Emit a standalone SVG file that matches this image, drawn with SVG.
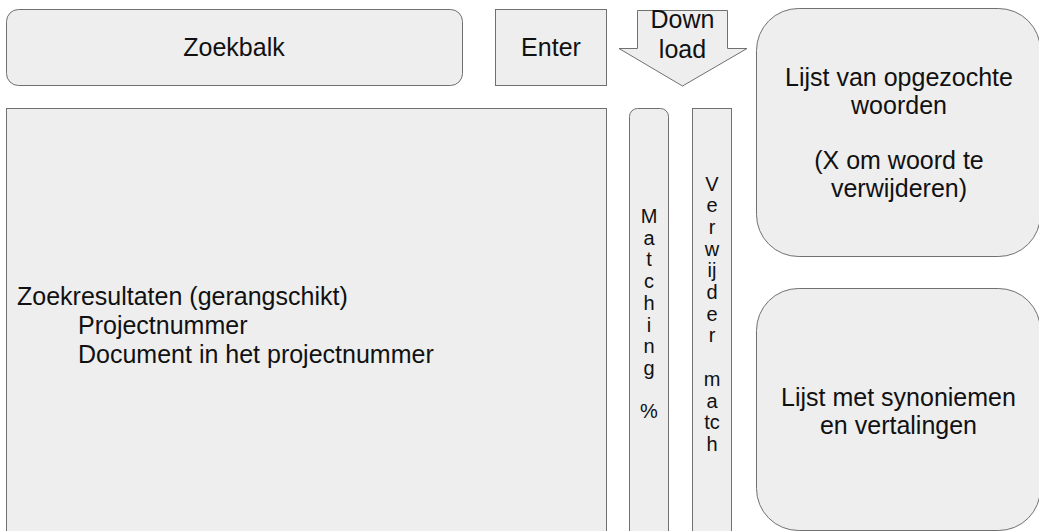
<svg xmlns="http://www.w3.org/2000/svg" width="1039" height="531" viewBox="0 0 1039 531">
<style>
.box{fill:#eeeeee;stroke:#707070;stroke-width:1}
.t{font-family:"Liberation Sans",Arial,sans-serif;font-size:25px;fill:#111111}
.v{font-family:"Liberation Sans",Arial,sans-serif;font-size:20px;fill:#111111;text-anchor:middle}
.c{text-anchor:middle}
</style>
<rect width="1039" height="531" fill="#ffffff"/>
<g id="zoekbalk">
<rect class="box" x="6.5" y="9.5" width="456" height="76" rx="12"/>
<text class="t c" x="234" y="56">Zoekbalk</text>
</g>
<g id="enter">
<rect class="box" x="495.5" y="9.5" width="111" height="76"/>
<text class="t c" x="551" y="56">Enter</text>
</g>
<g id="download">
<polygon class="box" points="637.5,10.5 727.5,10.5 727.5,48.5 747,48.5 682.5,86 619,48.5 637.5,48.5"/>
<text class="t c" x="682.5" y="28">Down</text>
<text class="t c" x="682.5" y="58">load</text>
</g>
<g id="zoekresultaten">
<rect class="box" x="6.5" y="108.5" width="600" height="440"/>
<text class="t" x="17" y="305">Zoekresultaten (gerangschikt)</text>
<text class="t" x="78" y="334">Projectnummer</text>
<text class="t" x="78" y="363">Document in het projectnummer</text>
</g>
<g id="matching">
<rect class="box" x="629.5" y="108.5" width="39" height="440" rx="8"/>
<text class="v"><tspan x="649" y="223">M</tspan><tspan x="649" dy="21.7">a</tspan><tspan x="649" dy="21.7">t</tspan><tspan x="649" dy="21.7">c</tspan><tspan x="649" dy="21.7">h</tspan><tspan x="649" dy="21.7">i</tspan><tspan x="649" dy="21.7">n</tspan><tspan x="649" dy="21.7">g</tspan><tspan x="649" dy="43.4">%</tspan></text>
</g>
<g id="verwijder">
<rect class="box" x="692.5" y="108.5" width="39" height="440"/>
<text class="v"><tspan x="712" y="190.5">V</tspan><tspan x="712" dy="21.7">e</tspan><tspan x="712" dy="21.7">r</tspan><tspan x="712" dy="21.7">w</tspan><tspan x="712" dy="21.7">ij</tspan><tspan x="712" dy="21.7">d</tspan><tspan x="712" dy="21.7">e</tspan><tspan x="712" dy="21.7">r</tspan><tspan x="712" dy="43.4">m</tspan><tspan x="712" dy="21.7">a</tspan><tspan x="712" dy="21.7">tc</tspan><tspan x="712" dy="21.7">h</tspan></text>
</g>
<g id="opgezochte-woorden">
<rect class="box" x="756.5" y="8.5" width="284" height="248" rx="42"/>
<text class="t c"><tspan x="899" y="86">Lijst van opgezochte</tspan><tspan x="899" dy="27.7">woorden</tspan><tspan x="899" dy="55.4">(X om woord te</tspan><tspan x="899" dy="27.7">verwijderen)</tspan></text>
</g>
<g id="synoniemen">
<rect class="box" x="756.5" y="288.5" width="284" height="242" rx="42"/>
<text class="t c"><tspan x="898.5" y="406">Lijst met synoniemen</tspan><tspan x="898.5" dy="28">en vertalingen</tspan></text>
</g>
<g id="connectors"></g>
</svg>
